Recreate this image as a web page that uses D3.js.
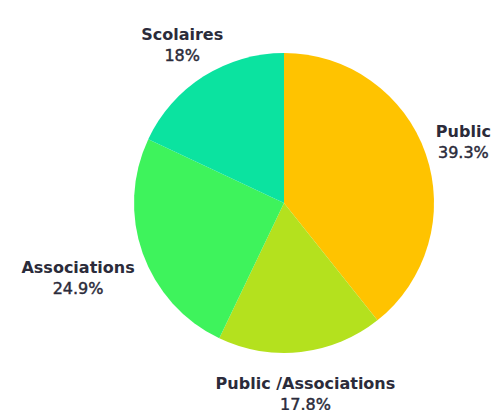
<!DOCTYPE html>
<html>
<head>
<meta charset="utf-8">
<script src="https://cdn.jsdelivr.net/npm/d3@7"></script>
<style>
  body { margin: 0; background: #fff; }
</style>
</head>
<body>
<svg width="500" height="410"></svg>
<script>
// DATA
var labels = ["Public", "Public /Associations", "Associations", "Scolaires"];
var values = [39.3, 17.8, 24.9, 18];
var colors = ["#ffc300", "#b4e11e", "#3ef35c", "#0be3a0"];

var svg = d3.select("svg"),
    width = +svg.attr("width"),
    height = +svg.attr("height"),
    radius = 150;

var g = svg.append("g").attr("transform", "translate(284,203)");

var pie = d3.pie().sort(null).value(function(d) { return d; });
var arcs = pie(values);

var arc = d3.arc().innerRadius(0).outerRadius(radius);

g.selectAll("path")
    .data(arcs)
  .enter().append("path")
    .attr("d", arc)
    .attr("fill", function(d, i) { return colors[i]; });

// Labels, placed outside the pie
var labelR = 190;
var lab = g.selectAll(".lab")
    .data(arcs)
  .enter().append("text")
    .attr("class", "lab")
    .attr("text-anchor", "middle")
    .attr("font-family", "'DejaVu Sans', sans-serif")
    .attr("font-size", "16px")
    .attr("fill", "#2b2b3a");

lab.append("tspan")
    .attr("x", 0).attr("y", -3)
    .attr("font-weight", "bold")
    .text(function(d, i) { return labels[i]; });
lab.append("tspan")
    .attr("x", 0).attr("y", 18)
    .attr("stroke", "#2b2b3a")
    .attr("stroke-width", 0.45)
    .text(function(d, i) { return values[i] + "%"; });

lab.each(function(d) {
  var a = (d.startAngle + d.endAngle) / 2,
      w = this.getBBox().width,
      r = labelR;
  // wide labels on the sides go further out so they don't hit the pie
  if (Math.abs(Math.sin(a)) > 0.8) r += Math.max(0, w / 2 - 28);
  var x = Math.sin(a) * r,
      y = -Math.cos(a) * r;
  d3.select(this).attr("transform", "translate(" + x + "," + y + ")");
});
</script>
</body>
</html>
